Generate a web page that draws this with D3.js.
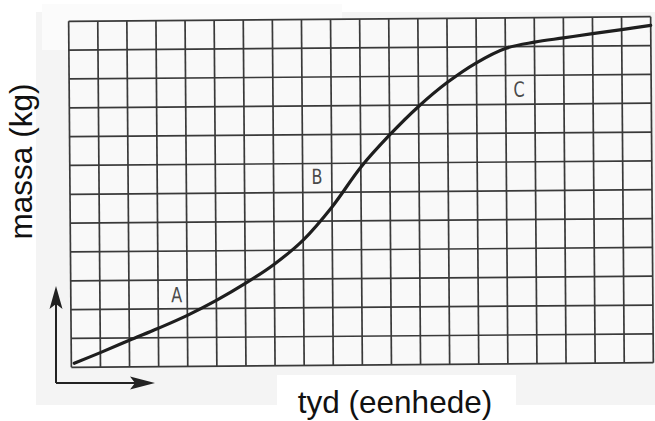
<!DOCTYPE html>
<html>
<head>
<meta charset="utf-8">
<script src="https://cdn.jsdelivr.net/npm/d3@7"></script>
<style>
  html, body { margin: 0; padding: 0; background: #ffffff; }
  svg { display: block; }
</style>
</head>
<body>
<div id="chart"></div>
<script>
// ---- data (grid units) ----
const xTicks = d3.range(0, 21);   // 20 columns of the grid (time units)
const yTicks = d3.range(0, 13);   // 12 rows of the grid (mass units)
const timeValues = [0.1, 1, 2, 3, 4, 5, 6, 7, 8, 9, 10, 11, 12, 13, 14, 15, 16, 17, 18, 19, 20];
const massValues = [0.14, 0.5, 0.92, 1.33, 1.77, 2.28, 2.86, 3.52, 4.35, 5.49, 6.86, 7.97, 8.95, 9.78, 10.45, 10.94, 11.15, 11.29, 11.43, 11.56, 11.7];
const phaseLabels = ["A", "B", "C"];
const phaseTime = [3.64, 8.49, 15.46];
const phaseMass = [2.47, 6.53, 9.5];
const xTitle = "tyd (eenhede)";
const yTitle = "massa (kg)";

// ---- layout ----
const W = 655, H = 421;
const svg = d3.select("#chart").append("svg").attr("width", W).attr("height", H);

// scanned page backdrop
svg.append("rect").attr("x", 0).attr("y", 0).attr("width", W).attr("height", H).attr("fill", "#ffffff");
svg.append("rect").attr("x", 36).attr("y", 12).attr("width", W - 36).attr("height", 393).attr("fill", "#f4f4f4");
svg.append("rect").attr("x", 42).attr("y", 4).attr("width", 300).attr("height", 46).attr("fill", "#fbfbfb");

const x = d3.scaleLinear().domain([0, 20]).range([70, 652]);
const y = d3.scaleLinear().domain([0, 12]).range([365, 19]);

const g = svg.append("g").attr("transform", "rotate(-0.45, 361, 192)");

// grid
g.append("rect")
  .attr("x", x(0)).attr("y", y(12))
  .attr("width", x(20) - x(0)).attr("height", y(0) - y(12))
  .attr("fill", "#f9f9f9");

g.append("g").selectAll("line").data(xTicks).join("line")
  .attr("x1", d => x(d)).attr("x2", d => x(d))
  .attr("y1", y(0)).attr("y2", y(12))
  .attr("stroke", "#3a3a3a").attr("stroke-width", 1.7);

g.append("g").selectAll("line").data(yTicks).join("line")
  .attr("x1", x(0)).attr("x2", x(20))
  .attr("y1", d => y(d)).attr("y2", d => y(d))
  .attr("stroke", "#3a3a3a").attr("stroke-width", 1.7);

// curve
const pts = timeValues.map((t, i) => [t, massValues[i]]);
const line = d3.line().x(d => x(d[0])).y(d => y(d[1])).curve(d3.curveCatmullRom.alpha(0.5));
g.append("path").datum(pts)
  .attr("d", line)
  .attr("fill", "none")
  .attr("stroke", "#1e1e1e")
  .attr("stroke-width", 3.2)
  .attr("stroke-linecap", "round");

// phase labels
g.append("g").selectAll("text").data(phaseLabels).join("text")
  .attr("x", (d, i) => x(phaseTime[i]))
  .attr("y", (d, i) => y(phaseMass[i]))
  .attr("text-anchor", "middle")
  .attr("dominant-baseline", "central")
  .attr("font-family", "'Liberation Sans Narrow', 'DejaVu Sans Condensed', 'Liberation Sans', sans-serif")
  .attr("font-size", 21)
  .attr("transform", (d, i) => `translate(${x(phaseTime[i])},${y(phaseMass[i])}) scale(0.85,1) translate(${-x(phaseTime[i])},${-y(phaseMass[i])})`)
  .attr("fill", "#4a4a4a")
  .text(d => d);

// direction arrows (lower-left)
const ax = 56, ay = 383;
svg.append("path")
  .attr("d", `M${ax},${ay} L${ax},300`)
  .attr("stroke", "#222").attr("stroke-width", 2).attr("fill", "none");
svg.append("path")
  .attr("d", `M${ax},${ay} L140,${ay}`)
  .attr("stroke", "#222").attr("stroke-width", 2).attr("fill", "none");
svg.append("path")
  .attr("d", `M${ax},286 L${ax + 6.5},309 L${ax},304 L${ax - 6.5},309 Z`)
  .attr("fill", "#222");
svg.append("path")
  .attr("d", `M155,${ay} L130,${ay - 6.5} L135,${ay} L130,${ay + 6.5} Z`)
  .attr("fill", "#222");

// axis titles
svg.append("rect").attr("x", 277).attr("y", 375).attr("width", 239).attr("height", 46).attr("fill", "#ffffff");
svg.append("text")
  .attr("x", 395).attr("y", 413)
  .attr("text-anchor", "middle")
  .attr("font-family", "'Liberation Sans', Arial, sans-serif")
  .attr("font-size", 31.5)
  .attr("fill", "#111")
  .text(xTitle);

svg.append("text")
  .attr("transform", "translate(32,161.5) rotate(-90)")
  .attr("text-anchor", "middle")
  .attr("font-family", "'Liberation Sans', Arial, sans-serif")
  .attr("font-size", 31.5)
  .attr("fill", "#111")
  .text(yTitle);
</script>
</body>
</html>
